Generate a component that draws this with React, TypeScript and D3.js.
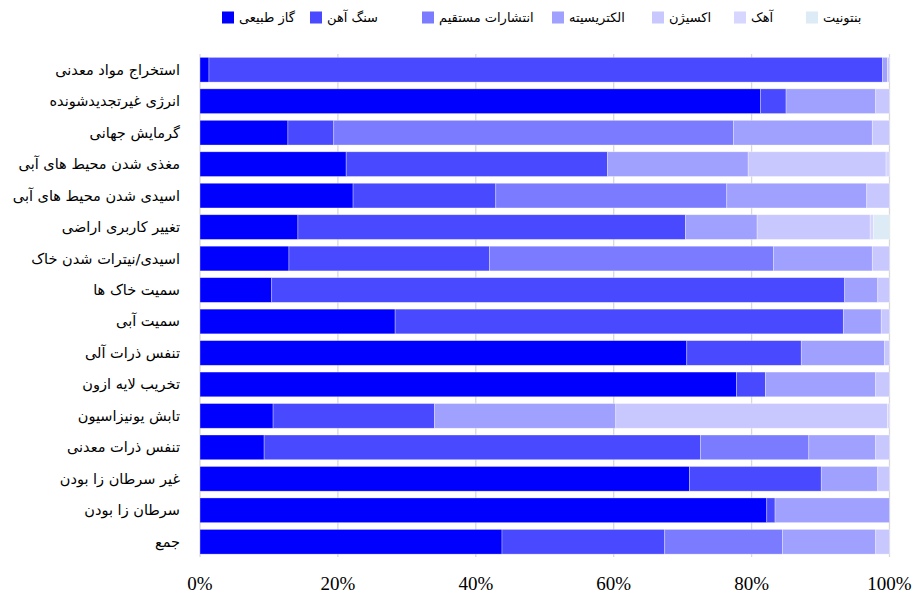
import React from "react";
import * as d3 from "d3";

const categories = [
  "استخراج مواد معدنی",
  "انرژی غیرتجدیدشونده",
  "گرمایش جهانی",
  "مغذی شدن محیط های آبی",
  "اسیدی شدن محیط های آبی",
  "تغییر کاربری اراضی",
  "اسیدی/نیترات شدن خاک",
  "سمیت خاک ها",
  "سمیت آبی",
  "تنفس ذرات آلی",
  "تخریب لایه ازون",
  "تابش یونیزاسیون",
  "تنفس ذرات معدنی",
  "غیر سرطان زا بودن",
  "سرطان زا بودن",
  "جمع",
];

const seriesNames = ["گاز طبیعی", "سنگ آهن", "انتشارات مستقیم", "الکتریسیته", "اکسیژن", "آهک", "بنتونیت"];

const gas = [1.3, 81.3, 12.75, 21.2, 22.2, 14.2, 12.9, 10.4, 28.3, 70.6, 77.8, 10.6, 9.3, 71.0, 82.2, 43.8];
const ironOre = [97.7, 3.7, 6.65, 37.9, 20.7, 56.2, 29.1, 83.1, 65.0, 16.6, 4.2, 23.4, 63.3, 19.1, 1.2, 23.6];
const directEmissions = [0, 0, 58.0, 0, 33.5, 0, 41.2, 0, 0, 0, 0, 0, 15.7, 0, 0, 17.1];
const electricity = [0.7, 13.0, 20.1, 20.4, 20.3, 10.4, 14.3, 4.8, 5.5, 12.1, 16.0, 26.3, 9.7, 8.2, 16.6, 13.5];
const oxygen = [0.3, 2.0, 2.5, 20.0, 3.3, 16.4, 2.5, 1.7, 1.2, 0.7, 2.0, 39.4, 2.0, 1.7, 0, 2.0];
const lime = [0, 0, 0, 0.5, 0, 0.5, 0, 0, 0, 0, 0, 0.3, 0, 0, 0, 0];
const bentonite = [0, 0, 0, 0, 0, 2.3, 0, 0, 0, 0, 0, 0, 0, 0, 0, 0];

const tickValues = [0, 20, 40, 60, 80, 100];

const colors = ["#0000FF", "#4949FF", "#7B7BFF", "#A0A0FF", "#C8C8FF", "#D6D6FF", "#DDEBF6"];

const seriesValues = [gas, ironOre, directEmissions, electricity, oxygen, lime, bentonite];

export default function App() {
  const W = 914;
  const H = 596;
  const legendX = [222, 310, 422, 552, 652, 734, 806];
  const x = d3.scaleLinear().domain([0, 100]).range([200, 889.5]);
  const y = d3.scaleBand<string>().domain(categories).range([54, 557.5]).paddingInner(0.215).paddingOuter(0.1075);

  const rows = categories.map((c, i) => {
    const obj: any = { cat: c };
    seriesNames.forEach((s, k) => (obj[s] = seriesValues[k][i]));
    return obj;
  });
  const stack = d3.stack<any>().keys(seriesNames)(rows);

  const persian = "'DejaVu Sans', sans-serif";

  return (
    <svg width={W} height={H} style={{ position: "absolute", left: 0, top: 0, background: "#fff" }}>
      {tickValues.map((t) => (
        <line key={t} x1={x(t)} x2={x(t)} y1={54} y2={557} stroke="#d9d9d9" strokeWidth={1.3} />
      ))}
      {stack.map((layer, k) => (
        <g key={k} fill={colors[k]}>
          {layer.map((d, i) =>
            d[1] - d[0] > 0 ? (
              <rect
                key={i}
                x={x(d[0])}
                y={y(categories[i])}
                width={x(d[1]) - x(d[0])}
                height={y.bandwidth()}
                stroke="#ffffff"
                strokeOpacity={0.45}
                strokeWidth={0.7}
              />
            ) : null
          )}
        </g>
      ))}
      {categories.map((c) => (
        <text
          key={c}
          x={180}
          y={(y(c) as number) + y.bandwidth() / 2}
          textAnchor="end"
          dominantBaseline="central"
          fontFamily={persian}
          fontSize={14.5}
          fill="#000"
        >
          {c}
        </text>
      ))}
      {tickValues.map((t) => (
        <text
          key={t}
          x={x(t)}
          y={590}
          textAnchor="middle"
          fontFamily="'Liberation Serif', 'Times New Roman', serif"
          fontSize={19}
          fill="#000"
        >
          {t}%
        </text>
      ))}
      {seriesNames.map((s, k) => (
        <g key={s}>
          <rect x={legendX[k]} y={11.5} width={12} height={12} fill={colors[k]} />
          <text
            x={legendX[k] + 17}
            y={17.5}
            textAnchor="start"
            dominantBaseline="central"
            fontFamily={persian}
            fontSize={13}
            fill="#000"
          >
            {s}
          </text>
        </g>
      ))}
    </svg>
  );
}
